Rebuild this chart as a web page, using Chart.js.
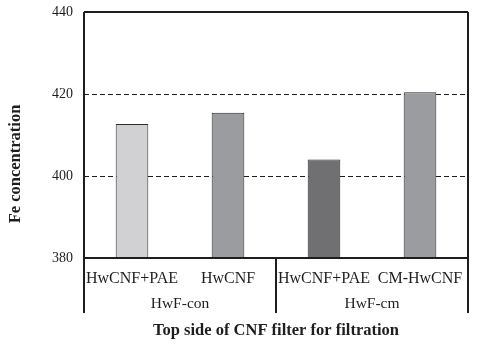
<!DOCTYPE html>
<html>
<head>
<meta charset="utf-8">
<script src="https://cdn.jsdelivr.net/npm/chart.js@4/dist/chart.umd.min.js"></script>
<style>
  html, body { margin: 0; padding: 0; background: #fff; }
  #wrap { width: 479px; height: 345px; }
</style>
</head>
<body>
<div id="wrap"><canvas id="c" width="479" height="345"></canvas></div>
<script>
// Fe concentration measured on the top side of each CNF filter
const categories = ['HwCNF+PAE', 'HwCNF', 'HwCNF+PAE', 'CM-HwCNF'];
const groups = ['HwF-con', 'HwF-con', 'HwF-cm', 'HwF-cm'];
const feValues = [412.7, 415.4, 404.0, 420.4];
const barColors = ['#d1d1d3', '#9b9c9f', '#707073', '#9b9c9f'];
const yTicks = [380, 400, 420, 440];

const serif = "'Liberation Serif', 'DejaVu Serif', serif";
const ink = '#1e1e1e';

// Frame, dashed reference lines, group labels and axis titles
const decor = {
  id: 'decor',
  beforeDatasetsDraw(chart) {
    const { ctx, chartArea: a, scales: { y } } = chart;
    ctx.save();
    ctx.strokeStyle = ink;
    ctx.lineWidth = 1;
    ctx.setLineDash([5, 3]);
    yTicks.forEach(v => {
      if (v === y.min || v === y.max) return;
      const py = Math.round(y.getPixelForValue(v)) + 0.5;
      ctx.beginPath();
      ctx.moveTo(a.left, py);
      ctx.lineTo(a.right, py);
      ctx.stroke();
    });
    ctx.restore();
  },
  afterDraw(chart) {
    const { ctx, chartArea: a, scales: { x } } = chart;
    const lowY = 313;
    ctx.save();
    ctx.strokeStyle = ink;
    ctx.lineWidth = 2;
    ctx.setLineDash([]);
    // plot frame
    ctx.beginPath();
    ctx.moveTo(a.left, a.top);
    ctx.lineTo(a.right, a.top);
    ctx.moveTo(a.left, a.bottom);
    ctx.lineTo(a.right, a.bottom);
    ctx.moveTo(a.right, a.top);
    ctx.lineTo(a.right, lowY);
    ctx.moveTo(a.left, a.top);
    ctx.lineTo(a.left, lowY);
    ctx.stroke();

    // group separators and group labels
    const spans = [];
    groups.forEach((g, i) => {
      if (!spans.length || spans[spans.length - 1].name !== g) spans.push({ name: g, first: i, last: i });
      else spans[spans.length - 1].last = i;
    });
    ctx.fillStyle = ink;
    ctx.font = '15.5px ' + serif;
    ctx.textAlign = 'center';
    ctx.textBaseline = 'middle';
    spans.forEach((s, k) => {
      const cx = (x.getPixelForValue(s.first) + x.getPixelForValue(s.last)) / 2;
      ctx.fillText(s.name, cx, 304);
      if (k > 0) {
        const sx = Math.round((x.getPixelForValue(s.first - 1) + x.getPixelForValue(s.first)) / 2);
        ctx.beginPath();
        ctx.moveTo(sx, a.bottom);
        ctx.lineTo(sx, lowY);
        ctx.stroke();
      }
    });

    // axis titles
    ctx.font = 'bold 16.5px ' + serif;
    ctx.fillText('Top side of CNF filter for filtration', (a.left + a.right) / 2, 331);
    ctx.translate(16, 164);
    ctx.rotate(-Math.PI / 2);
    ctx.fillText('Fe concentration', 0, 0);
    ctx.restore();
  }
};

new Chart(document.getElementById('c'), {
  type: 'bar',
  data: {
    labels: categories,
    datasets: [{
      data: feValues,
      backgroundColor: barColors,
      borderColor: '#2a2a2a',
      borderWidth: 1,
      barPercentage: 1,
      categoryPercentage: 0.34
    }]
  },
  options: {
    responsive: false,
    animation: false,
    events: [],
    layout: { padding: { left: 0, right: 11, top: 12, bottom: 0 } },
    plugins: { legend: { display: false }, tooltip: { enabled: false } },
    scales: {
      x: {
        grid: { display: false, drawTicks: false },
        border: { display: false },
        ticks: { color: ink, font: { family: serif, size: 16 }, padding: 11, maxRotation: 0, autoSkip: false },
        afterFit(s) { s.height = 87; s.paddingLeft = 0; s.paddingRight = 0; }
      },
      y: {
        min: 380,
        max: 440,
        grid: { display: false, drawTicks: false },
        border: { display: false },
        afterBuildTicks(s) { s.ticks = yTicks.map(v => ({ value: v })); },
        ticks: { color: ink, font: { family: serif, size: 14 }, padding: 11 },
        afterFit(s) { s.width = 84; s.paddingTop = 0; s.paddingBottom = 0; }
      }
    }
  },
  plugins: [decor]
});
</script>
</body>
</html>
